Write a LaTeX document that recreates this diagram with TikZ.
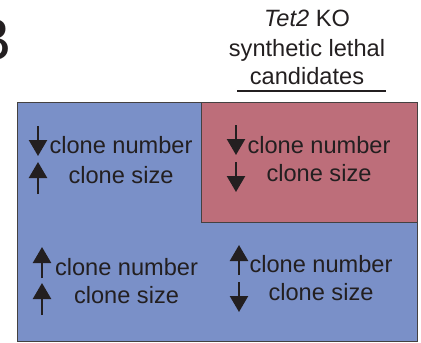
\documentclass[tikz,border=0pt]{standalone}
\usepackage{fontspec}
\setmainfont{Liberation Sans}
\usetikzlibrary{arrows.meta}
\definecolor{bluebg}{RGB}{122,144,200}
\definecolor{redbg}{RGB}{189,110,122}
\definecolor{ink}{RGB}{35,31,32}
\tikzset{
  lbl/.style={anchor=base, inner sep=0pt, text=ink, font=\fontsize{23.6}{29}\selectfont},
  ttl/.style={anchor=base, inner sep=0pt, text=ink, font=\fontsize{23.6}{29}\selectfont},
  arr/.style={draw=ink, line width=2.4pt, -{Triangle[length=16pt,width=18pt]}},
  box/.style={draw=ink!85, line width=1pt}
}
\begin{document}
\begin{tikzpicture}[x=1pt,y=-1pt]
\useasboundingbox (0,0) rectangle (421,343);
% panel letter (clipped at the left edge as in the reference)
\node[anchor=base east, inner sep=0pt, text=ink, font=\fontsize{60}{60}\selectfont] (B) at (12,60) {B};
% title
\node[ttl] (t1) at (307,26) {\textit{Tet2} KO};
\node[ttl] (t2) at (307,56) {synthetic lethal};
\node[ttl] (t3) at (307,84) {candidates};
\coordinate (u1) at (237,91);
\coordinate (u2) at (386,91);
\draw[ink, line width=1.6pt] (u1) -- (u2);
% boxes
\fill[bluebg] (17,102) rectangle (417,341);
\draw[box] (17,102) rectangle (417,341);
\fill[redbg] (201,102) rectangle (417,222);
\draw[box] (201,102) rectangle (417,222);
% top-left
\node[lbl] (a1) at (121,153) {clone number};
\node[lbl] (a2) at (121,183) {clone size};
\draw[arr] (38,126) -- (38,156);
\draw[arr] (38,194) -- (38,162);
% top-right
\node[lbl] (b1) at (319,153) {clone number};
\node[lbl] (b2) at (319,181) {clone size};
\draw[arr] (236,125) -- (236,155);
\draw[arr] (236,162) -- (236,192);
% bottom-left
\node[lbl] (c1) at (126.5,275) {clone number};
\node[lbl] (c2) at (126.5,303) {clone size};
\draw[arr] (42,278) -- (42,247);
\draw[arr] (42,315) -- (42,283);
% bottom-right
\node[lbl] (d1) at (321,272) {clone number};
\node[lbl] (d2) at (321,300) {clone size};
\draw[arr] (239,275) -- (239,245);
\draw[arr] (239,282) -- (239,312);
\end{tikzpicture}
\end{document}
